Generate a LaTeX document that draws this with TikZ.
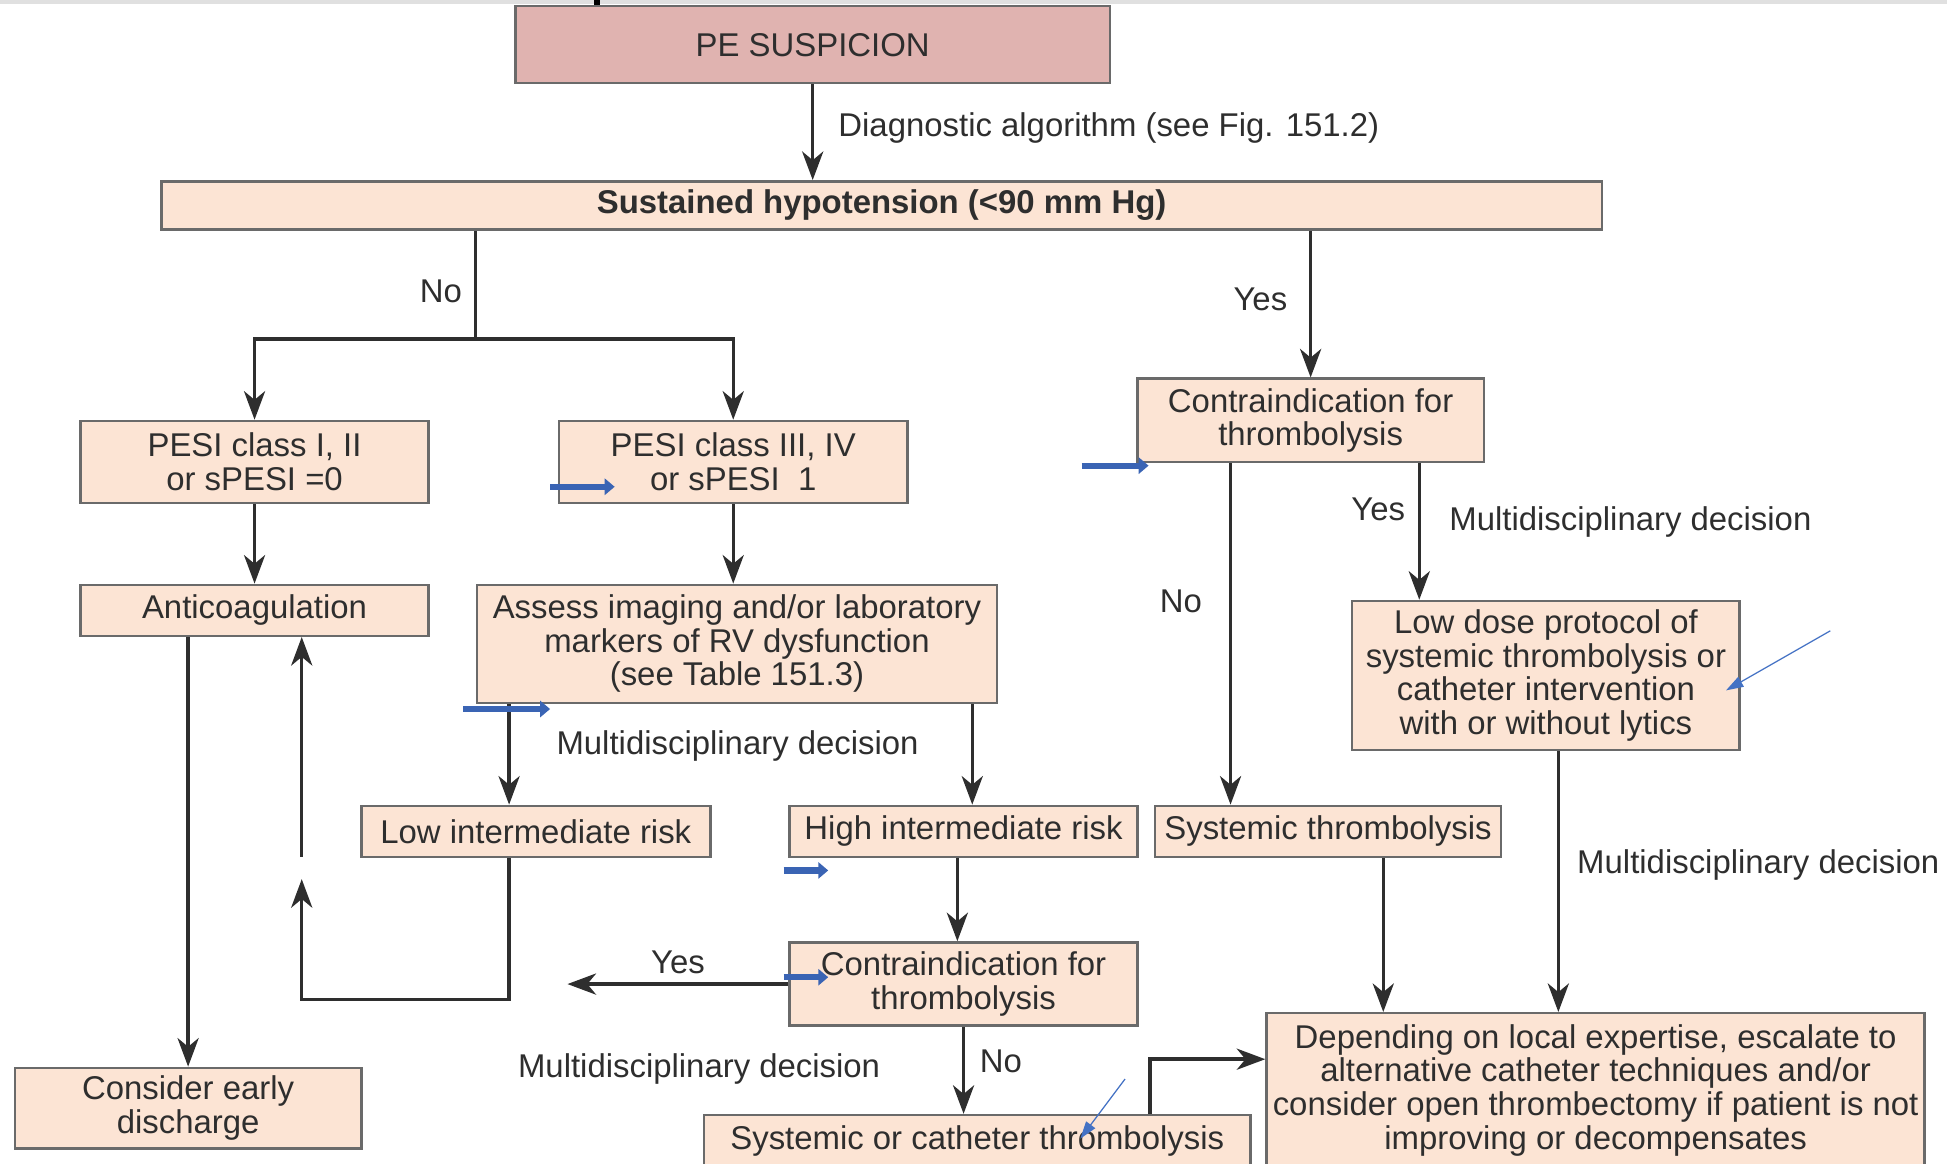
\documentclass[tikz,border=0pt]{standalone}
\usepackage{fontspec}
\setmainfont{Liberation Sans}
\usepackage{tikz}
\usetikzlibrary{arrows,arrows.meta,positioning}
\definecolor{peach}{HTML}{FCE4D4}
\definecolor{rosebox}{HTML}{E0B3B0}
\definecolor{boxline}{HTML}{6A6A6A}
\definecolor{inkgray}{HTML}{2E2E2E}
\definecolor{markblue}{HTML}{3A64B4}
\definecolor{thinblue}{HTML}{4472C4}
\tikzset{box/.style={shape=rectangle, draw=boxline, line width=2pt, fill=peach,
    text=inkgray, align=center, inner sep=2pt, font=\fontsize{26.5}{27}\selectfont}}
\tikzset{lbl/.style={text=inkgray, inner sep=0pt, font=\fontsize{26.5}{27}\selectfont}}

\begin{document}
\begin{tikzpicture}[>={Stealth[length=23pt,width=17pt,inset=7pt]}, x=1pt, y=-1pt]
    \tikzstyle{arr}=[->, draw=inkgray, line width=2.8pt]
    \tikzstyle{plain}=[draw=inkgray, line width=2.8pt]
    \tikzstyle{bluearr}=[draw=markblue, line width=5pt,
      -{Triangle[length=8pt,width=13pt]}]
    \tikzstyle{thinarr}=[draw=thinblue, line width=1pt,
      -{Triangle[length=14pt,width=9pt]}]
    \useasboundingbox (0,0) rectangle (1568,937);
    \fill[black!12] (0,0) rectangle (1568,3);
    \fill[black] (478,0) rectangle (483,4);
    % boxes
    \node[box, fill=rosebox, minimum width=479, minimum height=62] (pe) at (654.5,36) {PE SUSPICION};
    \node[box, minimum width=1160, minimum height=39] (hypo) at (710,165.5) {\textbf{Sustained hypotension (<90 mm Hg)}};
    \node[box, minimum width=280, minimum height=66] (pesi1) at (205,372) {PESI class I, II\\or sPESI =0};
    \node[box, minimum width=281, minimum height=66] (pesi2) at (590.5,372) {PESI class III, IV\\or sPESI~~1};
    \node[box, minimum width=279, minimum height=67] (contra1) at (1055.5,338.5) {Contraindication for\\thrombolysis};
    \node[box, minimum width=280, minimum height=41] (anti) at (205,491.5) {Anticoagulation};
    \node[box, minimum width=419, minimum height=95] (assess) at (593.5,518.5) {Assess imaging and/or laboratory\\markers of RV dysfunction\\(see Table 151.3)};
    \node[box, minimum width=312, minimum height=120] (lowdose) at (1245,544) {Low dose protocol of\\systemic thrombolysis or\\catheter intervention\\with or without lytics};
    \node[box, minimum width=281, minimum height=41] (low) at (431.5,669.5) {Low intermediate risk};
    \node[box, minimum width=280, minimum height=41] (high) at (776,669.5) {High intermediate risk};
    \node[box, minimum width=279, minimum height=41] (systemic) at (1069.5,669.5) {Systemic thrombolysis};
    \node[box, minimum width=279, minimum height=65] (early) at (151.5,892.5) {Consider early\\discharge};
    \node[box, minimum width=280, minimum height=67] (contra2) at (776,792.5) {Contraindication for\\thrombolysis};
    \node[box, minimum width=440, minimum height=42] (syscath) at (787,919) {Systemic or catheter thrombolysis};
    \node[box, minimum width=530, minimum height=124] (depending) at (1285,878) {Depending on local expertise, escalate to\\alternative catheter techniques and/or\\consider open thrombectomy if patient is not\\improving or decompensates};
    % labels
    \node[lbl, anchor=west] (ldiag) at (675,103) {Diagnostic algorithm (see Fig. 151.2)};
    \node[lbl] (lno1) at (355,235) {No};
    \node[lbl] (lyes1) at (1015,241) {Yes};
    \node[lbl] (lyes2) at (1110,410) {Yes};
    \node[lbl, anchor=west] (lmd1) at (1167,420) {Multidisciplinary decision};
    \node[lbl] (lno2) at (951,484) {No};
    \node[lbl, anchor=west] (lmd2) at (448,601) {Multidisciplinary decision};
    \node[lbl, anchor=west] (lmd3) at (1270,697) {Multidisciplinary decision};
    \node[lbl] (lyes3) at (546,775) {Yes};
    \node[lbl] (lno3) at (806,855) {No};
    \node[lbl, anchor=west] (lmd4) at (417,861) {Multidisciplinary decision};
    % bend points
    \coordinate (nosplit) at (383,273);
    \coordinate (c1no) at (991,0);
    \coordinate (c1yes) at (1143,0);
    \coordinate (aslow) at (410,0);
    \coordinate (ashigh) at (783,0);
    \coordinate (hic) at (771,0);
    \coordinate (lpa) at (410,805);
    \coordinate (lpb) at (243,805);
    \coordinate (lpc) at (243,708);
    \coordinate (lpd) at (243,690);
    \coordinate (yesend) at (457,792.5);
    \coordinate (scup) at (926,853);
    \coordinate (sysx) at (1114,0);
    \coordinate (ldx) at (1255,0);
    % connectors
    \draw[arr] (pe) -- (pe |- hypo.north);
    \draw[plain] (hypo.south -| nosplit) -- (nosplit);
    \draw[arr] (nosplit) -| (pesi1);
    \draw[arr] (nosplit) -| (pesi2);
    \draw[arr] (hypo.south -| contra1) -- (contra1);
    \draw[arr] (pesi1) -- (anti);
    \draw[arr] (pesi2) -- (pesi2 |- assess.north);
    \draw[arr] (contra1.south -| c1no) -- (systemic.north -| c1no);
    \draw[arr] (contra1.south -| c1yes) -- (lowdose.north -| c1yes);
    \draw[arr] (assess.south -| aslow) -- (low.north -| aslow);
    \draw[arr] (assess.south -| ashigh) -- (high.north -| ashigh);
    \draw[arr] (low.south -| lpa) -- (lpa) -- (lpb) -- (lpc);
    \draw[arr] (lpd) -- (anti.south -| lpd);
    \draw[arr] (anti.south -| early) -- (early);
    \draw[arr] (high.south -| hic) -- (contra2.north -| hic);
    \draw[arr] (contra2) -- (yesend);
    \draw[arr] (contra2) -- (contra2 |- syscath.north);
    \draw[arr] (syscath.north -| scup) -- (scup) -- (scup -| depending.west);
    \draw[arr] (systemic.south -| sysx) -- (depending.north -| sysx);
    \draw[arr] (lowdose.south -| ldx) -- (depending.north -| ldx);
    % blue marks
    \draw[bluearr] (443,392) -- (495,392);
    \draw[bluearr] (871,375) -- (925,375);
    \draw[bluearr] (373,571) -- (443,571);
    \draw[bluearr] (631,701) -- (667,701);
    \draw[bluearr] (631,787) -- (667,787);
    \draw[thinarr] (1474,508) -- (1390,556);
    \draw[thinarr] (906,869) -- (870,917);
\end{tikzpicture}
\end{document}
